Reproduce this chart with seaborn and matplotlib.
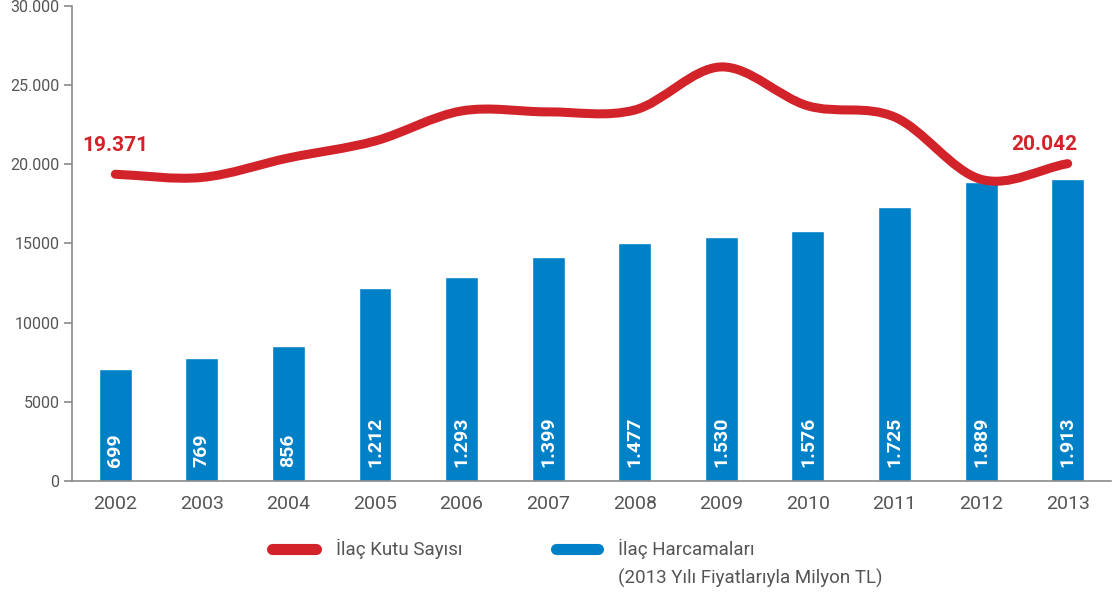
import numpy as np
import matplotlib
matplotlib.use("Agg")
import matplotlib.pyplot as plt
from matplotlib.path import Path
from matplotlib.patches import PathPatch
from matplotlib.lines import Line2D
from matplotlib.ticker import FixedLocator, FixedFormatter
import seaborn as sns

sns.set_theme(style="white")
plt.rcParams["font.family"] = ["Roboto", "DejaVu Sans"]

# ── data ─────────────────────────────────────────────────────────────────────
years = ["2002", "2003", "2004", "2005", "2006", "2007",
         "2008", "2009", "2010", "2011", "2012", "2013"]
# İlaç harcamaları (milyon TL, 2013 fiyatlarıyla) - bar etiketleri
spending = [699, 769, 856, 1212, 1293, 1399, 1477, 1530, 1576, 1725, 1889, 1913]
# bar boyları, grafikteki sol eksenden okunan
bar_heights = [7070, 7770, 8530, 12190, 12880, 14150,
               15030, 15410, 15790, 17310, 18880, 19080]
# İlaç kutu sayısı (milyon kutu), okunan değerler
boxes = [19371, 19170, 20400, 21470, 23370, 23310,
         23430, 26150, 23690, 22990, 19050, 20042]
ytick_vals = [0, 5000, 10000, 15000, 20000, 25000, 30000]
ytick_labels = ["0", "5000", "10000", "15000", "20.000", "25.000", "30.000"]

RED = "#D2232A"
BLUE = "#0080C6"
GREY_AX = "#8a8a8a"
GREY_TXT = "#555555"


def fmt_tr(v):
    return f"{v:,}".replace(",", ".")


fig = plt.figure(figsize=(11.18, 5.96), dpi=100)
ax = fig.add_axes([0.0644, 0.193, 0.9293, 0.797])

# bars
sns.barplot(x=years, y=bar_heights, color=BLUE, width=0.38, saturation=1,
            ax=ax, zorder=2)
for i, v in enumerate(spending):
    ax.annotate(fmt_tr(v), (i, 0), xytext=(0, 10), textcoords="offset points",
                rotation=90, ha="center", va="bottom", color="white",
                fontsize=14, fontweight="bold", zorder=4)

# smooth red line (Catmull-Rom through the yearly points)
xs = np.arange(len(boxes), dtype=float)
ys = np.array(boxes, dtype=float)
px = np.concatenate([[2 * xs[0] - xs[1]], xs, [2 * xs[-1] - xs[-2]]])
py = np.concatenate([[2 * ys[0] - ys[1]], ys, [2 * ys[-1] - ys[-2]]])
verts = [(xs[0], ys[0])]
codes = [Path.MOVETO]
for k in range(1, len(px) - 2):
    c1 = (px[k] + (px[k + 1] - px[k - 1]) / 6, py[k] + (py[k + 1] - py[k - 1]) / 6)
    c2 = (px[k + 1] - (px[k + 2] - px[k]) / 6, py[k + 1] - (py[k + 2] - py[k]) / 6)
    verts += [c1, c2, (px[k + 1], py[k + 1])]
    codes += [Path.CURVE4] * 3
curve = PathPatch(Path(verts, codes), fill=False, edgecolor=RED, linewidth=6.5,
                  capstyle="round", joinstyle="round", zorder=3)
ax.add_patch(curve)

ax.annotate(fmt_tr(boxes[0]), (0, boxes[0]), xytext=(0, 14),
            textcoords="offset points", ha="center", va="bottom",
            color=RED, fontsize=15, fontweight="bold")
ax.annotate(fmt_tr(boxes[-1]), (len(boxes) - 1, boxes[-1]), xytext=(7, 7),
            textcoords="offset points", ha="right", va="bottom",
            color=RED, fontsize=15, fontweight="bold")

# axes styling
ax.set_xlim(-0.5, len(years) - 0.5)
ax.set_ylim(0, 30000)
ax.yaxis.set_major_locator(FixedLocator(ytick_vals))
ax.yaxis.set_major_formatter(FixedFormatter(ytick_labels))
ax.set_xticks(range(len(years)))
ax.set_xticklabels(years)
ax.set_xticks(np.arange(-0.5, len(years), 1), minor=True)
ax.tick_params(axis="x", which="major", length=0, pad=10, labelsize=14,
               labelcolor=GREY_TXT)
ax.tick_params(axis="x", which="minor", length=6, width=1.2, color=GREY_AX,
               direction="out")
ax.tick_params(axis="y", length=6, width=1.2, color=GREY_AX, direction="out",
               labelsize=11.5, labelcolor=GREY_TXT, pad=3, left=True)
ax.set_xlabel("")
ax.set_ylabel("")
for s in ["top", "right"]:
    ax.spines[s].set_visible(False)
for s in ["left", "bottom"]:
    ax.spines[s].set_color(GREY_AX)
    ax.spines[s].set_linewidth(1.2)

# legend drawn under the axes
W, H = 1118, 596
fig.add_artist(Line2D([272 / W, 316 / W], [1 - 549 / H] * 2, color=RED,
                      linewidth=8, solid_capstyle="round"))
fig.text(336 / W, 1 - 549 / H, "İlaç Kutu Sayısı", color=GREY_TXT,
         fontsize=13.5, va="center", ha="left")
fig.add_artist(Line2D([556 / W, 598 / W], [1 - 549 / H] * 2, color=BLUE,
                      linewidth=8, solid_capstyle="round"))
fig.text(618 / W, 1 - 549 / H, "İlaç Harcamaları", color=GREY_TXT,
         fontsize=13.5, va="center", ha="left")
fig.text(618 / W, 1 - 578 / H, "(2013 Yılı Fiyatlarıyla Milyon TL)",
         color=GREY_TXT, fontsize=13.5, va="center", ha="left")

fig.savefig("out.png", dpi=100)
